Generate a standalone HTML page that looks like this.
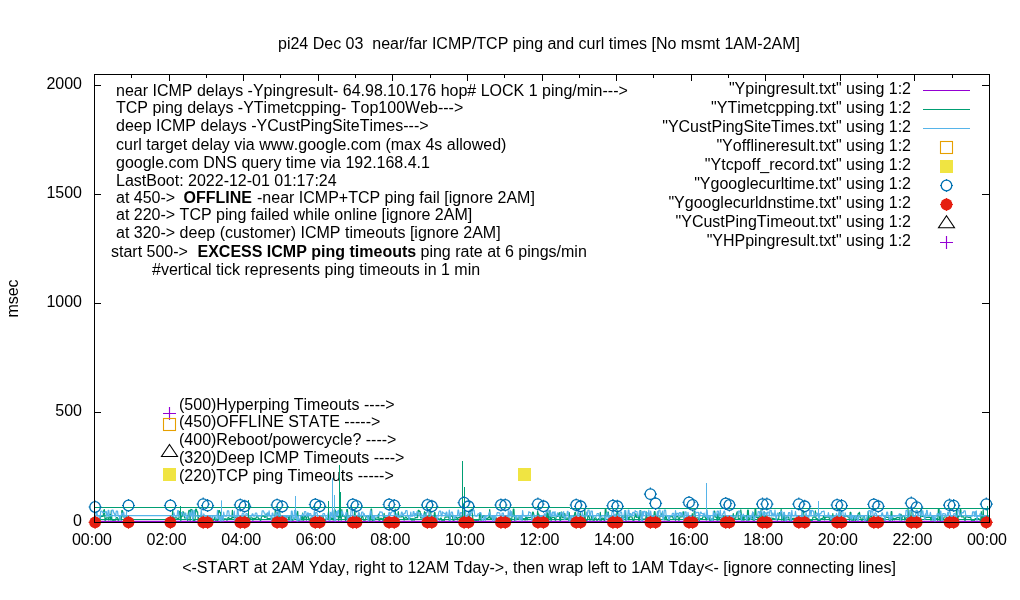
<!DOCTYPE html><html><head><meta charset="utf-8"><style>html,body{margin:0;padding:0;width:1020px;height:600px;overflow:hidden;background:#fff}</style></head><body><svg width="1020" height="600" viewBox="0 0 1020 600" style="position:absolute;left:0;top:0;will-change:transform"><rect width="1020" height="600" fill="#fff"/><g font-family="Liberation Sans, sans-serif" font-size="16" fill="#000" style="font-kerning:none"><text x="539" y="49" text-anchor="middle" xml:space="preserve">pi24 Dec 03  near/far ICMP/TCP ping and curl times [No msmt 1AM-2AM]</text><text x="82" y="526" text-anchor="end">0</text><text x="82" y="416" text-anchor="end">500</text><text x="82" y="307" text-anchor="end">1000</text><text x="82" y="198" text-anchor="end">1500</text><text x="82" y="89" text-anchor="end">2000</text><text x="92.0" y="545" text-anchor="middle">00:00</text><text x="166.6" y="545" text-anchor="middle">02:00</text><text x="241.2" y="545" text-anchor="middle">04:00</text><text x="315.8" y="545" text-anchor="middle">06:00</text><text x="390.3" y="545" text-anchor="middle">08:00</text><text x="464.9" y="545" text-anchor="middle">10:00</text><text x="539.5" y="545" text-anchor="middle">12:00</text><text x="614.1" y="545" text-anchor="middle">14:00</text><text x="688.7" y="545" text-anchor="middle">16:00</text><text x="763.2" y="545" text-anchor="middle">18:00</text><text x="837.8" y="545" text-anchor="middle">20:00</text><text x="912.4" y="545" text-anchor="middle">22:00</text><text x="987.0" y="545" text-anchor="middle">00:00</text><text x="539" y="573" text-anchor="middle">&lt;-START at 2AM Yday, right to 12AM Tday-&gt;, then wrap left to 1AM Tday&lt;- [ignore connecting lines]</text><text transform="translate(17.5,298.5) rotate(-90)" text-anchor="middle">msec</text><text x="116" y="96" xml:space="preserve">near ICMP delays -Ypingresult- 64.98.10.176 hop# LOCK 1 ping/min---&gt;</text><text x="116" y="113" xml:space="preserve">TCP ping delays -YTimetcpping- Top100Web---&gt;</text><text x="116" y="131" xml:space="preserve">deep ICMP delays -YCustPingSiteTimes---&gt;</text><text x="116" y="150" xml:space="preserve">curl target delay via www.google.com (max 4s allowed)</text><text x="116" y="168" xml:space="preserve">google.com DNS query time via 192.168.4.1</text><text x="116" y="185.5" xml:space="preserve">LastBoot: 2022-12-01 01:17:24</text><text x="116" y="202.5" xml:space="preserve">at 450-&gt;</text><text x="183.5" y="202.5" xml:space="preserve"><tspan font-weight="bold">OFFLINE</tspan></text><text x="257" y="202.5" xml:space="preserve">-near ICMP+TCP ping fail [ignore 2AM]</text><text x="116" y="220" xml:space="preserve">at 220-&gt; TCP ping failed while online [ignore 2AM]</text><text x="116" y="238" xml:space="preserve">at 320-&gt; deep (customer) ICMP timeouts [ignore 2AM]</text><text x="111" y="256.5" xml:space="preserve">start 500-&gt;</text><text x="197.5" y="256.5" xml:space="preserve"><tspan font-weight="bold">EXCESS ICMP ping timeouts</tspan></text><text x="420.5" y="256.5" xml:space="preserve">ping rate at 6 pings/min</text><text x="152" y="274.5" xml:space="preserve">#vertical tick represents ping timeouts in 1 min</text><text x="179" y="410" xml:space="preserve">(500)Hyperping Timeouts ----&gt;</text><text x="179" y="426.8" xml:space="preserve">(450)OFFLINE STATE -----&gt;</text><text x="179" y="444.5" xml:space="preserve">(400)Reboot/powercycle? ----&gt;</text><text x="179" y="462.6" xml:space="preserve">(320)Deep ICMP Timeouts ----&gt;</text><text x="179" y="480.5" xml:space="preserve">(220)TCP ping Timeouts -----&gt;</text><text x="911" y="94.2" text-anchor="end">&quot;Ypingresult.txt&quot; using 1:2</text><text x="911" y="113.2" text-anchor="end">&quot;YTimetcpping.txt&quot; using 1:2</text><text x="911" y="132.2" text-anchor="end">&quot;YCustPingSiteTimes.txt&quot; using 1:2</text><text x="911" y="151.2" text-anchor="end">&quot;Yofflineresult.txt&quot; using 1:2</text><text x="911" y="170.2" text-anchor="end">&quot;Ytcpoff_record.txt&quot; using 1:2</text><text x="911" y="189.2" text-anchor="end">&quot;Ygooglecurltime.txt&quot; using 1:2</text><text x="911" y="208.2" text-anchor="end">&quot;Ygooglecurldnstime.txt&quot; using 1:2</text><text x="911" y="227.2" text-anchor="end">&quot;YCustPingTimeout.txt&quot; using 1:2</text><text x="911" y="246.2" text-anchor="end">&quot;YHPpingresult.txt&quot; using 1:2</text></g><path d="M94 412.5h7M989 412.5h-7M94 303.5h7M989 303.5h-7M94 194.5h7M989 194.5h-7M94 85.5h7M989 85.5h-7M94.5 74v7M94.5 522v-5M131.5 74v4M131.5 522v-4M169.5 74v7M169.5 522v-5M206.5 74v4M206.5 522v-4M243.5 74v7M243.5 522v-5M280.5 74v4M280.5 522v-4M318.5 74v7M318.5 522v-5M355.5 74v4M355.5 522v-4M392.5 74v7M392.5 522v-5M430.5 74v4M430.5 522v-4M467.5 74v7M467.5 522v-5M504.5 74v4M504.5 522v-4M542.5 74v7M542.5 522v-5M579.5 74v4M579.5 522v-4M616.5 74v7M616.5 522v-5M653.5 74v4M653.5 522v-4M691.5 74v7M691.5 522v-5M728.5 74v4M728.5 522v-4M765.5 74v7M765.5 522v-5M803.5 74v4M803.5 522v-4M840.5 74v7M840.5 522v-5M877.5 74v4M877.5 522v-4M914.5 74v7M914.5 522v-5M952.5 74v4M952.5 522v-4M989.5 74v7M989.5 522v-5" stroke="#000" stroke-width="1" fill="none" shape-rendering="crispEdges"/><path d="M923 90.5H970" stroke="#9400d3" stroke-width="1.1"/><path d="M923 109.5H970" stroke="#009e73" stroke-width="1.1"/><path d="M923 128.5H970" stroke="#56b4e9" stroke-width="1.1"/><rect x="940.5" y="141.5" width="12" height="12" fill="none" stroke="#e69f00" stroke-width="1.1"/><rect x="940.0" y="160.0" width="13" height="13" fill="#f0e442"/><circle cx="946.50" cy="185.50" r="5.3" fill="none" stroke="#0072b2" stroke-width="1.3"/><path d="M940.00 185.50h1.6M953.00 185.50h-1.6M946.50 179.00v1.6M946.50 192.00v-1.6" stroke="#0072b2" stroke-width="1.2"/><circle cx="946.50" cy="204.50" r="5.9" fill="#e51e10"/><path d="M940.00 204.50h1.6M953.00 204.50h-1.6M946.50 198.00v1.6M946.50 211.00v-1.6" stroke="#e51e10" stroke-width="1.2"/><path d="M946.5 215.7L954.5 227.7H938.5Z" fill="none" stroke="#000" stroke-width="1.1" stroke-linejoin="miter"/><path d="M940.0 242.5h13M946.5 236.0v13" stroke="#9400d3" stroke-width="1.15"/><path d="M163.0 413.5h13M169.5 407.0v13" stroke="#9400d3" stroke-width="1.15"/><rect x="163.5" y="418.5" width="12" height="12" fill="none" stroke="#e69f00" stroke-width="1.1"/><path d="M169.5 444.5L177.5 456.5H161.5Z" fill="none" stroke="#000" stroke-width="1.1" stroke-linejoin="miter"/><rect x="163.0" y="468.0" width="13" height="13" fill="#f0e442"/><rect x="518.0" y="468.0" width="13" height="13" fill="#f0e442"/><g fill="none" stroke-linejoin="round"><path d="M94 521.4H989" stroke="#9400d3" stroke-width="1.2"/><path d="M94 507.5H570M570 508.5H989M94 519.5H989" stroke="#009e73" stroke-width="1.05"/><path d="M94 515.6H989" stroke="#56b4e9" stroke-width="1.2"/><path d="M94.5 519.9 95.1 517.6 95.7 517.6 96.4 517.6 97.0 517.6 97.6 520.4 98.2 520.3 98.9 519.8 99.5 520.4 100.1 520.4 100.7 516.3 101.3 516.3 102.0 516.3 102.6 516.3 103.2 516.3 103.8 510.1 104.4 509.6 105.1 520.6 105.7 519.9 106.3 517.9 106.9 517.9 107.6 517.9 108.2 517.9 108.8 520.2 109.4 514.4 110.0 514.4 110.7 519.9 111.3 510.5 111.9 520.0 112.5 520.1 113.1 520.5 113.8 520.0 114.4 519.9 115.0 520.2 115.6 520.1 116.3 517.5 116.9 517.5 117.5 517.5 118.1 520.4 118.7 520.0 119.4 518.4 120.0 518.4 120.6 518.4 121.2 520.1 121.8 510.5 122.5 510.5 123.1 517.0 123.7 517.0 124.3 517.0 125.0 517.0 125.6 520.1 126.2 516.6 126.8 516.6 127.4 516.6M171.5 520.5 172.1 520.6 172.7 509.5 173.4 520.5 174.0 517.8 174.6 517.8 175.2 517.8 175.9 517.8 176.5 517.8 177.1 518.3 177.7 518.3 178.3 518.3 179.0 518.3 179.6 511.4 180.2 511.4 180.8 520.6 181.4 516.3 182.1 516.3 182.7 511.8 183.3 511.8 183.9 512.8 184.6 518.0 185.2 518.0 185.8 518.0 186.4 518.0 187.0 518.0 187.7 520.6 188.3 513.4 188.9 510.3 189.5 510.3 190.1 520.4 190.8 509.4 191.4 509.7 192.0 509.7 192.6 512.0 193.3 520.5 193.9 519.9 194.5 520.5 195.1 520.0 195.7 509.1 196.4 509.1 197.0 511.8 197.6 511.8 198.2 520.6 198.8 516.1 199.5 516.1 200.1 516.1 200.7 516.1 201.3 516.1 202.0 520.2 202.6 520.6 203.2 520.4 203.8 517.3 204.4 517.3 205.1 517.3 205.7 517.2 206.3 517.2 206.9 517.2 207.5 520.3 208.2 519.0 208.8 519.0 209.4 519.0 210.0 519.0 210.7 519.0 211.3 520.5 211.9 519.9 212.5 519.8 213.1 520.1 213.8 520.3 214.4 517.4 215.0 517.4 215.6 520.3 216.2 520.1 216.9 520.1 217.5 520.4 218.1 520.1 218.7 510.5 219.4 510.5 220.0 512.7 220.6 512.7 221.2 518.6 221.8 518.6 222.5 518.6 223.1 518.6 223.7 520.2 224.3 518.8 224.9 518.8 225.6 518.8 226.2 518.8 226.8 520.2 227.4 520.0 228.1 517.4 228.7 517.4 229.3 518.6 229.9 518.6 230.5 518.6 231.2 518.6 231.8 518.6 232.4 510.4 233.0 517.6 233.6 517.6 234.3 517.6 234.9 517.6 235.5 517.2 236.1 517.2 236.8 517.2 237.4 517.2 238.0 517.2 238.6 520.2 239.2 520.4 239.9 519.9 240.5 520.1 241.1 520.0 241.7 517.1 242.4 517.1 243.0 519.8 243.6 516.9 244.2 516.9 244.8 516.9 245.5 516.9 246.1 520.0 246.7 517.6 247.3 517.6 247.9 517.6 248.6 517.6 249.2 517.6 249.8 520.0 250.4 517.9 251.1 517.9 251.7 517.9 252.3 517.9 252.9 520.4 253.5 518.3 254.2 518.3 254.8 518.3 255.4 518.3 256.0 518.3 256.6 516.8 257.3 516.8 257.9 516.8 258.5 518.8 259.1 518.8 259.8 518.8 260.4 520.5 261.0 519.9 261.6 516.2 262.2 516.2 262.9 516.2 263.5 516.2 264.1 516.2 264.7 517.5 265.3 517.5 266.0 514.1 266.6 514.1 267.2 518.7 267.8 518.7 268.5 518.7 269.1 518.7 269.7 518.7 270.3 518.3 270.9 518.3 271.6 520.4 272.2 518.0 272.8 518.0 273.4 518.0 274.0 518.0 274.7 520.4 275.3 509.4 275.9 513.1 276.5 513.1 277.2 512.9 277.8 512.9 278.4 520.2 279.0 520.5 279.6 509.3 280.3 518.9 280.9 518.9 281.5 518.9 282.1 520.0 282.7 516.8 283.4 516.8 284.0 516.8 284.6 516.8 285.2 520.2 285.9 516.9 286.5 516.9 287.1 516.9 287.7 516.9 288.3 516.9 289.0 520.5 289.6 516.2 290.2 516.2 290.8 516.2 291.4 516.2 292.1 520.3 292.7 519.9 293.3 520.1 293.9 518.0 294.6 518.0 295.2 518.0 295.8 518.0 296.4 514.2 297.0 514.2 297.7 511.4 298.3 520.4 298.9 520.2 299.5 520.2 300.2 519.8 300.8 516.1 301.4 516.1 302.0 520.2 302.6 513.1 303.3 520.3 303.9 520.0 304.5 516.4 305.1 516.4 305.7 516.4 306.4 520.2 307.0 516.2 307.6 516.2 308.2 516.2 308.9 520.0 309.5 520.3 310.1 518.1 310.7 518.1 311.3 518.3 312.0 518.3 312.6 518.3 313.2 518.3 313.8 520.4 314.4 517.6 315.1 517.6 315.7 517.6 316.3 518.9 316.9 518.9 317.6 518.9 318.2 518.9 318.8 518.9 319.4 520.1 320.0 518.0 320.7 518.0 321.3 516.6 321.9 516.6 322.5 516.6 323.1 516.6 323.8 519.9 324.4 519.9 325.0 520.6 325.6 520.2 326.3 518.3 326.9 518.3 327.5 518.3 328.1 518.3 328.7 518.3 329.4 520.5 330.0 516.9 330.6 516.9 331.2 518.3 331.8 518.3 332.5 518.3 333.1 520.0 333.7 519.9 334.3 509.8 335.0 509.8 335.6 511.5 336.2 516.3 336.8 516.3 337.4 516.3 338.1 516.3 338.7 520.4 339.3 516.3 339.9 516.3 340.5 516.3 341.2 520.2 341.8 509.5 342.4 516.2 343.0 516.2 343.7 516.2 344.3 516.3 344.9 516.3 345.5 520.5 346.1 519.9 346.8 509.6 347.4 509.6 348.0 517.0 348.6 517.0 349.2 517.0 349.9 517.5 350.5 517.5 351.1 517.5 351.7 517.5 352.4 520.0 353.0 520.6 353.6 520.4 354.2 520.0 354.8 509.3 355.5 520.0 356.1 519.9 356.7 517.2 357.3 517.2 358.0 516.3 358.6 516.3 359.2 516.3 359.8 518.4 360.4 518.4 361.1 519.9 361.7 516.6 362.3 516.6 362.9 516.6 363.5 520.1 364.2 520.2 364.8 519.8 365.4 520.1 366.0 516.7 366.7 516.7 367.3 516.7 367.9 516.4 368.5 516.4 369.1 516.4 369.8 520.3 370.4 519.9 371.0 509.2 371.6 509.2 372.2 520.4 372.9 520.0 373.5 520.5 374.1 519.9 374.7 520.1 375.4 518.0 376.0 518.0 376.6 518.0 377.2 518.0 377.8 518.0 378.5 514.2 379.1 520.5 379.7 520.3 380.3 518.4 380.9 518.4 381.6 518.4 382.2 518.4 382.8 520.3 383.4 520.3 384.1 513.4 384.7 517.7 385.3 517.7 385.9 517.7 386.5 517.7 387.2 517.7 387.8 520.5 388.4 519.8 389.0 520.1 389.6 520.4 390.3 518.8 390.9 518.8 391.5 518.8 392.1 520.5 392.8 518.5 393.4 518.5 394.0 518.5 394.6 518.5 395.2 509.1 395.9 520.2 396.5 516.4 397.1 516.4 397.7 516.4 398.3 511.6 399.0 516.8 399.6 516.8 400.2 516.8 400.8 516.8 401.5 516.8 402.1 516.7 402.7 516.7 403.3 516.7 403.9 519.8 404.6 519.9 405.2 517.1 405.8 517.1 406.4 517.1 407.0 518.6 407.7 518.6 408.3 518.6 408.9 518.6 409.5 518.6 410.2 518.6 410.8 518.6 411.4 518.6 412.0 520.6 412.6 518.6 413.3 518.6 413.9 520.2 414.5 520.0 415.1 517.7 415.7 517.7 416.4 517.7 417.0 517.7 417.6 517.7 418.2 510.4 418.9 510.4 419.5 511.4 420.1 511.4 420.7 517.9 421.3 517.9 422.0 517.9 422.6 517.9 423.2 517.9 423.8 520.4 424.5 511.7 425.1 512.8 425.7 512.8 426.3 518.7 426.9 518.7 427.6 518.7 428.2 518.7 428.8 518.7 429.4 509.8 430.0 509.8 430.7 512.2 431.3 519.9 431.9 520.6 432.5 520.0 433.2 519.8 433.8 520.1 434.4 512.5 435.0 512.5 435.6 520.4 436.3 520.0 436.9 518.5 437.5 518.5 438.1 518.5 438.7 518.5 439.4 520.0 440.0 519.8 440.6 518.0 441.2 518.0 441.9 520.6 442.5 520.1 443.1 520.0 443.7 520.2 444.3 520.5 445.0 517.1 445.6 517.1 446.2 517.1 446.8 517.1 447.4 516.8 448.1 516.8 448.7 516.8 449.3 520.3 449.9 520.1 450.6 516.1 451.2 516.1 451.8 516.1 452.4 516.1 453.0 520.2 453.7 520.3 454.3 520.0 454.9 517.6 455.5 517.6 456.1 517.6 456.8 517.6 457.4 519.9 458.0 517.6 458.6 517.6 459.3 517.6 459.9 517.6 460.5 516.8 461.1 516.8 461.7 516.8 462.4 520.5 463.0 513.6 463.6 519.9 464.2 518.2 464.8 518.2 465.5 520.1 466.1 520.4 466.7 518.4 467.3 518.4 468.0 518.4 468.6 518.4 469.2 520.4 469.8 511.3 470.4 511.3 471.1 509.4 471.7 509.4 472.3 512.2 472.9 520.1 473.5 520.0 474.2 520.4 474.8 519.9 475.4 520.4 476.0 520.5 476.7 520.4 477.3 520.3 477.9 519.9 478.5 520.4 479.1 520.0 479.8 513.5 480.4 513.5 481.0 520.5 481.6 517.7 482.3 517.7 482.9 516.2 483.5 516.2 484.1 516.2 484.7 516.2 485.4 518.3 486.0 518.3 486.6 518.3 487.2 518.3 487.8 518.3 488.5 517.3 489.1 517.3 489.7 509.6 490.3 518.9 491.0 518.9 491.6 518.9 492.2 516.6 492.8 516.6 493.4 518.4 494.1 518.4 494.7 518.4 495.3 518.4 495.9 517.9 496.5 517.9 497.2 520.1 497.8 520.3 498.4 519.0 499.0 519.0 499.7 519.0 500.3 519.0 500.9 520.1 501.5 519.9 502.1 519.9 502.8 518.1 503.4 518.1 504.0 518.1 504.6 518.1 505.2 518.1 505.9 516.3 506.5 516.3 507.1 516.3 507.7 518.2 508.4 518.2 509.0 518.1 509.6 518.1 510.2 518.1 510.8 520.0 511.5 520.5 512.1 516.1 512.7 516.1 513.3 509.1 513.9 509.1 514.6 520.3 515.2 520.1 515.8 518.2 516.4 518.2 517.1 518.2 517.7 518.2 518.3 518.1 518.9 518.1 519.5 517.1 520.2 517.1 520.8 517.1 521.4 517.1 522.0 517.1 522.6 519.9 523.3 518.7 523.9 518.7 524.5 518.7 525.1 520.2 525.8 517.1 526.4 517.1 527.0 520.0 527.6 517.6 528.2 517.6 528.9 517.6 529.5 517.6 530.1 517.6 530.7 517.3 531.3 517.3 532.0 517.3 532.6 512.2 533.2 512.2 533.8 514.4 534.5 518.7 535.1 518.7 535.7 520.1 536.3 520.2 536.9 520.5 537.6 511.0 538.2 514.2 538.8 514.2 539.4 517.9 540.0 517.9 540.7 517.9 541.3 517.9 541.9 517.9 542.5 520.3 543.2 520.5 543.8 518.6 544.4 518.6 545.0 518.6 545.6 520.2 546.3 520.3 546.9 511.1 547.5 520.5 548.1 513.1 548.8 520.4 549.4 514.4 550.0 510.3 550.6 519.8 551.2 520.3 551.9 517.4 552.5 517.4 553.1 517.4 553.7 517.4 554.3 517.4 555.0 519.9 555.6 520.4 556.2 516.5 556.8 516.5 557.5 516.5 558.1 516.5 558.7 513.9 559.3 512.6 559.9 520.3 560.6 520.4 561.2 512.0 561.8 512.0 562.4 517.7 563.0 517.7 563.7 517.7 564.3 513.5 564.9 513.5 565.5 518.2 566.2 518.2 566.8 518.2 567.4 518.2 568.0 518.2 568.6 520.3 569.3 512.7 569.9 520.5 570.5 519.9 571.1 518.3 571.7 518.3 572.4 518.3 573.0 520.3 573.6 516.2 574.2 516.2 574.9 512.3 575.5 512.3 576.1 517.8 576.7 517.8 577.3 517.8 578.0 520.4 578.6 520.5 579.2 520.4 579.8 513.7 580.4 513.7 581.1 519.8 581.7 520.0 582.3 518.4 582.9 518.4 583.6 518.4 584.2 518.4 584.8 509.9 585.4 520.3 586.0 520.4 586.7 520.6 587.3 520.0 587.9 516.1 588.5 516.1 589.1 516.1 589.8 520.1 590.4 519.8 591.0 520.0 591.6 516.5 592.3 516.5 592.9 520.1 593.5 520.1 594.1 520.6 594.7 517.9 595.4 517.9 596.0 517.9 596.6 520.1 597.2 520.4 597.8 519.9 598.5 518.7 599.1 518.7 599.7 520.1 600.3 512.4 601.0 520.4 601.6 520.0 602.2 518.1 602.8 518.1 603.4 518.1 604.1 520.3 604.7 520.4 605.3 509.4 605.9 509.4 606.6 516.2 607.2 516.2 607.8 512.1 608.4 512.1 609.0 520.2 609.7 520.5 610.3 516.8 610.9 516.8 611.5 516.8 612.1 516.8 612.8 516.8 613.4 517.3 614.0 517.3 614.6 520.2 615.3 517.2 615.9 517.2 616.5 517.2 617.1 510.9 617.7 510.9 618.4 516.6 619.0 516.6 619.6 517.8 620.2 517.8 620.8 517.8 621.5 517.8 622.1 516.3 622.7 516.3 623.3 517.7 624.0 517.7 624.6 517.7 625.2 510.5 625.8 520.1 626.4 519.9 627.1 517.1 627.7 517.1 628.3 517.1 628.9 519.9 629.5 516.9 630.2 516.9 630.8 516.9 631.4 516.9 632.0 516.9 632.7 519.8 633.3 520.5 633.9 520.5 634.5 516.8 635.1 516.8 635.8 513.6 636.4 517.5 637.0 517.5 637.6 516.3 638.2 516.3 638.9 520.5 639.5 520.1 640.1 510.5 640.7 510.5 641.4 517.7 642.0 517.7 642.6 520.2 643.2 519.0 643.8 519.0 644.5 519.0 645.1 519.0 645.7 519.0 646.3 511.9 646.9 520.2 647.6 517.4 648.2 517.4 648.8 517.4 649.4 517.4 650.1 517.4 650.7 520.2 651.3 519.9 651.9 516.6 652.5 516.6 653.2 516.6 653.8 516.6 654.4 511.6 655.0 511.6 655.6 518.0 656.3 518.0 656.9 520.3 657.5 513.2 658.1 519.9 658.8 520.6 659.4 520.5 660.0 516.5 660.6 516.5 661.2 516.5 661.9 513.0 662.5 513.0 663.1 517.3 663.7 517.3 664.3 517.3 665.0 520.0 665.6 516.2 666.2 516.2 666.8 519.8 667.5 520.0 668.1 520.2 668.7 520.2 669.3 520.3 669.9 516.6 670.6 516.6 671.2 516.6 671.8 516.6 672.4 516.6 673.1 518.3 673.7 518.3 674.3 518.0 674.9 518.0 675.5 520.4 676.2 516.5 676.8 516.5 677.4 516.5 678.0 516.5 678.6 520.2 679.3 520.1 679.9 516.8 680.5 516.8 681.1 516.8 681.8 516.8 682.4 516.8 683.0 511.9 683.6 511.9 684.2 519.8 684.9 517.8 685.5 517.8 686.1 517.8 686.7 517.8 687.3 517.8 688.0 520.0 688.6 520.0 689.2 518.9 689.8 518.9 690.5 518.9 691.1 518.9 691.7 518.9 692.3 513.5 692.9 519.9 693.6 519.9 694.2 511.1 694.8 511.1 695.4 520.3 696.0 519.9 696.7 517.8 697.3 517.8 697.9 517.8 698.5 517.8 699.2 520.6 699.8 518.7 700.4 518.7 701.0 518.7 701.6 518.7 702.3 518.7 702.9 516.8 703.5 516.8 704.1 516.8 704.7 516.8 705.4 516.8 706.0 519.8 706.6 520.0 707.2 517.3 707.9 517.3 708.5 517.3 709.1 517.3 709.7 520.4 710.3 519.9 711.0 520.4 711.6 518.9 712.2 518.9 712.8 518.9 713.4 520.1 714.1 511.0 714.7 511.0 715.3 517.1 715.9 517.1 716.6 517.1 717.2 520.5 717.8 513.9 718.4 513.9 719.0 520.2 719.7 517.6 720.3 517.6 720.9 517.6 721.5 517.6 722.1 520.1 722.8 516.1 723.4 516.1 724.0 516.1 724.6 517.9 725.3 517.9 725.9 517.9 726.5 517.9 727.1 520.3 727.7 520.4 728.4 520.0 729.0 520.0 729.6 517.8 730.2 517.8 730.8 517.6 731.5 517.6 732.1 517.6 732.7 517.6 733.3 513.6 734.0 519.8 734.6 518.1 735.2 518.1 735.8 518.1 736.4 514.1 737.1 511.9 737.7 511.9 738.3 518.6 738.9 518.6 739.6 518.6 740.2 518.6 740.8 509.9 741.4 514.4 742.0 520.4 742.7 516.6 743.3 516.6 743.9 520.5 744.5 516.0 745.1 516.0 745.8 516.0 746.4 516.0 747.0 520.4 747.6 510.1 748.3 510.1 748.9 520.4 749.5 518.0 750.1 518.0 750.7 518.0 751.4 518.0 752.0 518.0 752.6 512.2 753.2 520.2 753.8 520.2 754.5 520.1 755.1 509.1 755.7 509.1 756.3 517.4 757.0 517.4 757.6 517.4 758.2 520.0 758.8 516.8 759.4 516.8 760.1 516.8 760.7 510.9 761.3 510.9 761.9 516.9 762.5 516.9 763.2 516.9 763.8 516.9 764.4 511.8 765.0 516.7 765.7 516.7 766.3 517.5 766.9 517.5 767.5 517.5 768.1 517.5 768.8 520.2 769.4 518.0 770.0 518.0 770.6 518.0 771.2 518.0 771.9 518.0 772.5 518.4 773.1 518.4 773.7 518.4 774.4 518.8 775.0 518.8 775.6 518.8 776.2 518.8 776.8 518.8 777.5 520.1 778.1 518.8 778.7 518.8 779.3 512.5 779.9 512.5 780.6 514.2 781.2 509.2 781.8 520.3 782.4 516.4 783.1 516.4 783.7 520.4 784.3 512.7 784.9 520.1 785.5 520.3 786.2 517.2 786.8 517.2 787.4 517.2 788.0 517.2 788.6 517.2 789.3 520.1 789.9 520.2 790.5 519.9 791.1 520.6 791.8 520.1 792.4 518.4 793.0 518.4 793.6 518.4 794.2 518.4 794.9 518.4 795.5 518.4 796.1 518.4 796.7 518.4 797.4 520.2 798.0 520.2 798.6 519.8 799.2 520.5 799.8 520.6 800.5 520.1 801.1 520.5 801.7 520.3 802.3 510.3 802.9 510.3 803.6 512.3 804.2 520.1 804.8 520.5 805.4 517.1 806.1 517.1 806.7 517.1 807.3 517.1 807.9 518.8 808.5 518.8 809.2 520.1 809.8 520.5 810.4 520.0 811.0 520.4 811.6 520.4 812.3 520.5 812.9 517.1 813.5 517.1 814.1 517.1 814.8 517.1 815.4 510.9 816.0 518.5 816.6 518.5 817.2 518.5 817.9 520.6 818.5 520.2 819.1 520.4 819.7 520.6 820.3 520.2 821.0 518.5 821.6 518.5 822.2 518.5 822.8 518.5 823.5 516.4 824.1 516.4 824.7 519.8 825.3 517.5 825.9 517.5 826.6 517.2 827.2 517.2 827.8 517.2 828.4 517.2 829.0 517.2 829.7 520.0 830.3 520.5 830.9 520.5 831.5 520.0 832.2 520.3 832.8 513.6 833.4 520.1 834.0 520.3 834.6 517.1 835.3 517.1 835.9 520.3 836.5 516.1 837.1 516.1 837.7 516.1 838.4 517.6 839.0 517.6 839.6 517.6 840.2 517.6 840.9 512.3 841.5 519.0 842.1 519.0 842.7 519.0 843.3 519.0 844.0 519.0 844.6 516.2 845.2 516.2 845.8 516.2 846.4 516.2 847.1 516.2 847.7 517.0 848.3 517.0 848.9 517.0 849.6 520.4 850.2 512.3 850.8 512.3 851.4 520.2 852.0 519.9 852.7 520.2 853.3 520.5 853.9 516.6 854.5 516.6 855.1 520.5 855.8 520.4 856.4 516.5 857.0 516.5 857.6 516.5 858.3 513.4 858.9 513.4 859.5 512.3 860.1 517.4 860.7 517.4 861.4 520.4 862.0 519.9 862.6 520.2 863.2 516.7 863.9 516.7 864.5 516.7 865.1 520.0 865.7 520.4 866.3 520.4 867.0 520.0 867.6 520.5 868.2 511.4 868.8 520.5 869.4 520.1 870.1 516.6 870.7 516.6 871.3 516.6 871.9 516.6 872.6 519.0 873.2 519.0 873.8 519.0 874.4 517.9 875.0 517.9 875.7 517.9 876.3 517.9 876.9 517.3 877.5 517.3 878.1 517.3 878.8 517.5 879.4 517.5 880.0 517.5 880.6 518.3 881.3 518.3 881.9 518.3 882.5 518.3 883.1 518.3 883.7 520.0 884.4 520.2 885.0 520.2 885.6 517.2 886.2 517.2 886.8 517.3 887.5 517.3 888.1 517.3 888.7 517.3 889.3 520.5 890.0 520.2 890.6 520.2 891.2 511.6 891.8 511.6 892.4 520.3 893.1 518.2 893.7 518.2 894.3 519.9 894.9 518.4 895.5 518.4 896.2 518.4 896.8 517.6 897.4 517.6 898.0 517.6 898.7 517.6 899.3 517.6 899.9 520.0 900.5 514.4 901.1 514.4 901.8 520.2 902.4 516.1 903.0 516.1 903.6 516.1 904.2 516.1 904.9 520.2 905.5 517.8 906.1 517.8 906.7 517.8 907.4 517.8 908.0 509.4 908.6 518.5 909.2 518.5 909.8 518.5 910.5 520.1 911.1 513.1 911.7 509.3 912.3 509.3 912.9 514.0 913.6 520.2 914.2 519.9 914.8 520.1 915.4 518.6 916.1 518.6 916.7 518.6 917.3 518.6 917.9 518.6 918.5 518.1 919.2 518.1 919.8 518.1 920.4 520.6 921.0 509.7 921.7 516.5 922.3 516.5 922.9 516.5 923.5 516.5 924.1 516.5 924.8 517.8 925.4 517.8 926.0 517.8 926.6 517.3 927.2 517.3 927.9 517.3 928.5 517.3 929.1 517.3 929.7 517.4 930.4 517.4 931.0 520.4 931.6 516.5 932.2 516.5 932.8 516.5 933.5 516.5 934.1 520.3 934.7 518.7 935.3 518.7 935.9 518.7 936.6 518.7 937.2 518.7 937.8 520.5 938.4 509.1 939.1 509.1 939.7 520.2 940.3 513.3 940.9 520.4 941.5 517.5 942.2 517.5 942.8 520.1 943.4 520.0 944.0 517.0 944.6 517.0 945.3 517.0 945.9 517.0 946.5 517.0 947.1 520.5 947.8 520.1 948.4 518.7 949.0 518.7 949.6 520.4 950.2 516.8 950.9 516.8 951.5 516.8 952.1 516.8 952.7 517.5 953.3 517.5 954.0 517.5 954.6 517.5 955.2 520.6 955.8 520.5 956.5 509.5 957.1 509.5 957.7 520.3 958.3 516.3 958.9 516.3 959.6 516.3 960.2 509.6 960.8 509.6 961.4 516.8 962.0 516.8 962.7 516.8 963.3 516.8 963.9 516.8 964.5 519.9 965.2 520.4 965.8 516.8 966.4 516.8 967.0 516.8 967.6 516.8 968.3 517.5 968.9 517.5 969.5 517.5 970.1 517.5 970.7 517.5 971.4 520.4 972.0 520.0 972.6 520.1 973.2 520.4 973.9 519.8 974.5 520.4 975.1 518.6 975.7 518.6 976.3 518.6 977.0 518.6 977.6 518.6 978.2 518.6 978.8 518.6 979.4 519.8 980.1 519.9 980.7 520.5 981.3 511.6 981.9 520.1 982.6 519.9 983.2 509.7 983.8 520.0 984.4 516.7 985.0 516.7 985.7 516.7 986.3 516.7 986.9 516.7 987.5 516.7 988.2 516.7 988.8 520.4" stroke="#009e73" stroke-width="1.2"/><path d="M94.5 520.1 95.1 515.7 95.7 516.3 96.4 511.7 97.0 513.3 97.6 516.1 98.2 515.6 98.9 515.6 99.5 518.8 100.1 518.8 100.7 511.2 101.3 511.2 102.0 511.2 102.6 512.6 103.2 512.6 103.8 512.3 104.4 512.3 105.1 512.3 105.7 511.7 106.3 511.7 106.9 516.3 107.6 515.8 108.2 510.3 108.8 510.3 109.4 516.3 110.0 515.8 110.7 515.7 111.3 516.2 111.9 510.2 112.5 510.2 113.1 510.2 113.8 513.2 114.4 513.2 115.0 515.9 115.6 516.2 116.3 511.1 116.9 511.1 117.5 511.1 118.1 515.6 118.7 516.1 119.4 516.3 120.0 520.2 120.6 515.9 121.2 516.0 121.8 513.0 122.5 513.0 123.1 516.3 123.7 512.2 124.3 516.3 125.0 519.4 125.6 519.4 126.2 515.7 126.8 510.9 127.4 510.9M171.5 516.4 172.1 515.6 172.7 515.9 173.4 516.3 174.0 512.8 174.6 515.7 175.2 515.9 175.9 516.4 176.5 515.9 177.1 516.2 177.7 510.6 178.3 510.6 179.0 515.7 179.6 516.4 180.2 515.9 180.8 515.7 181.4 512.6 182.1 512.6 182.7 512.6 183.3 515.7 183.9 515.8 184.6 515.6 185.2 513.1 185.8 513.1 186.4 518.8 187.0 518.8 187.7 516.1 188.3 516.0 188.9 516.3 189.5 512.0 190.1 512.0 190.8 516.1 191.4 515.7 192.0 510.5 192.6 519.9 193.3 515.6 193.9 510.4 194.5 510.4 195.1 516.2 195.7 516.0 196.4 516.0 197.0 516.2 197.6 516.0 198.2 516.4 198.8 516.3 199.5 515.8 200.1 516.4 200.7 515.7 201.3 510.3 202.0 515.8 202.6 520.4 203.2 520.4 203.8 513.9 204.4 515.7 205.1 515.7 205.7 515.8 206.3 516.4 206.9 515.9 207.5 515.7 208.2 515.9 208.8 516.2 209.4 516.0 210.0 518.8 210.7 515.7 211.3 520.4 211.9 520.4 212.5 516.3 213.1 516.1 213.8 515.9 214.4 516.0 215.0 515.9 215.6 519.0 216.2 518.7 216.9 518.7 217.5 510.3 218.1 515.9 218.7 516.3 219.4 519.8 220.0 516.4 220.6 520.8 221.2 520.8 221.8 515.8 222.5 516.1 223.1 521.0 223.7 512.2 224.3 515.8 224.9 516.1 225.6 516.1 226.2 516.3 226.8 515.8 227.4 510.8 228.1 510.8 228.7 510.8 229.3 515.7 229.9 516.4 230.5 515.6 231.2 516.3 231.8 515.6 232.4 515.9 233.0 516.4 233.6 516.2 234.3 511.1 234.9 520.9 235.5 520.9 236.1 519.3 236.8 519.3 237.4 510.3 238.0 510.3 238.6 515.8 239.2 515.6 239.9 519.5 240.5 515.8 241.1 515.7 241.7 516.3 242.4 513.1 243.0 513.1 243.6 513.1 244.2 515.9 244.8 515.7 245.5 516.1 246.1 513.6 246.7 513.6 247.3 513.6 247.9 516.2 248.6 516.3 249.2 516.1 249.8 515.6 250.4 516.2 251.1 516.4 251.7 515.7 252.3 513.8 252.9 513.8 253.5 516.0 254.2 516.1 254.8 516.0 255.4 513.0 256.0 513.0 256.6 513.0 257.3 515.7 257.9 516.2 258.5 516.2 259.1 515.8 259.8 515.8 260.4 516.0 261.0 515.7 261.6 515.8 262.2 510.8 262.9 510.8 263.5 510.8 264.1 513.0 264.7 513.0 265.3 515.7 266.0 516.0 266.6 515.7 267.2 512.8 267.8 512.8 268.5 516.0 269.1 510.8 269.7 515.6 270.3 516.3 270.9 516.0 271.6 520.9 272.2 513.0 272.8 513.0 273.4 515.7 274.0 516.0 274.7 516.2 275.3 519.7 275.9 512.7 276.5 512.7 277.2 519.4 277.8 519.4 278.4 511.3 279.0 511.3 279.6 515.7 280.3 516.2 280.9 515.8 281.5 515.9 282.1 516.1 282.7 515.9 283.4 518.8 284.0 518.8 284.6 515.7 285.2 515.9 285.9 520.5 286.5 520.5 287.1 516.2 287.7 516.3 288.3 516.0 289.0 515.6 289.6 516.0 290.2 516.1 290.8 520.8 291.4 511.1 292.1 511.1 292.7 516.4 293.3 519.3 293.9 519.3 294.6 510.3 295.2 510.3 295.8 510.3 296.4 516.0 297.0 521.0 297.7 521.0 298.3 516.0 298.9 519.9 299.5 519.9 300.2 519.9 300.8 515.9 301.4 516.0 302.0 515.9 302.6 513.9 303.3 516.0 303.9 516.3 304.5 511.5 305.1 511.5 305.7 511.5 306.4 516.4 307.0 516.3 307.6 512.8 308.2 512.8 308.9 516.0 309.5 513.7 310.1 513.7 310.7 513.7 311.3 516.4 312.0 518.9 312.6 516.2 313.2 516.2 313.8 516.0 314.4 510.9 315.1 515.8 315.7 512.5 316.3 512.5 316.9 512.5 317.6 515.7 318.2 519.0 318.8 519.0 319.4 518.5 320.0 518.5 320.7 515.8 321.3 519.1 321.9 515.6 322.5 516.1 323.1 513.5 323.8 513.5 324.4 513.5 325.0 515.8 325.6 516.3 326.3 519.3 326.9 519.3 327.5 515.9 328.1 513.4 328.7 511.2 329.4 520.4 330.0 520.4 330.6 512.4 331.2 516.3 331.8 513.7 332.5 510.6 333.1 515.7 333.7 516.2 334.3 518.7 335.0 520.8 335.6 520.8 336.2 511.5 336.8 511.5 337.4 516.0 338.1 510.3 338.7 510.3 339.3 515.7 339.9 515.8 340.5 516.3 341.2 515.9 341.8 511.5 342.4 511.5 343.0 513.6 343.7 515.8 344.3 515.9 344.9 516.0 345.5 515.6 346.1 512.4 346.8 512.4 347.4 520.0 348.0 520.0 348.6 516.2 349.2 515.8 349.9 516.1 350.5 516.4 351.1 510.4 351.7 510.4 352.4 510.4 353.0 516.4 353.6 515.8 354.2 516.0 354.8 515.7 355.5 516.2 356.1 516.2 356.7 515.9 357.3 520.5 358.0 515.9 358.6 512.6 359.2 512.6 359.8 515.9 360.4 516.3 361.1 515.8 361.7 512.0 362.3 512.0 362.9 512.0 363.5 515.7 364.2 513.6 364.8 516.3 365.4 515.7 366.0 515.8 366.7 515.9 367.3 515.8 367.9 518.9 368.5 521.0 369.1 515.7 369.8 515.6 370.4 510.9 371.0 510.9 371.6 515.6 372.2 519.0 372.9 515.9 373.5 516.0 374.1 520.9 374.7 516.2 375.4 515.6 376.0 515.6 376.6 515.6 377.2 516.3 377.8 516.3 378.5 515.9 379.1 515.7 379.7 511.9 380.3 511.9 380.9 512.2 381.6 512.2 382.2 512.2 382.8 516.1 383.4 515.8 384.1 516.1 384.7 515.6 385.3 516.3 385.9 515.6 386.5 516.2 387.2 515.9 387.8 516.4 388.4 515.7 389.0 512.3 389.6 512.3 390.3 515.7 390.9 512.6 391.5 512.6 392.1 511.5 392.8 511.5 393.4 511.5 394.0 510.6 394.6 515.7 395.2 516.2 395.9 515.8 396.5 513.9 397.1 513.9 397.7 520.1 398.3 516.1 399.0 515.7 399.6 515.8 400.2 516.3 400.8 515.7 401.5 512.1 402.1 512.1 402.7 515.7 403.3 516.3 403.9 513.4 404.6 513.4 405.2 513.4 405.8 510.5 406.4 510.5 407.0 510.5 407.7 516.3 408.3 516.1 408.9 519.5 409.5 519.5 410.2 516.0 410.8 512.0 411.4 516.1 412.0 516.3 412.6 515.9 413.3 511.5 413.9 511.5 414.5 516.1 415.1 513.7 415.7 513.7 416.4 516.0 417.0 511.5 417.6 512.5 418.2 512.5 418.9 512.5 419.5 515.8 420.1 516.0 420.7 516.3 421.3 513.7 422.0 516.1 422.6 520.0 423.2 520.0 423.8 513.7 424.5 516.1 425.1 519.0 425.7 519.0 426.3 512.7 426.9 512.7 427.6 510.5 428.2 510.5 428.8 510.5 429.4 513.9 430.0 513.9 430.7 516.1 431.3 515.7 431.9 516.1 432.5 516.2 433.2 519.9 433.8 519.9 434.4 519.1 435.0 519.3 435.6 519.3 436.3 516.2 436.9 520.1 437.5 520.1 438.1 516.3 438.7 512.6 439.4 511.2 440.0 511.2 440.6 511.2 441.2 515.8 441.9 516.1 442.5 511.9 443.1 512.8 443.7 512.8 444.3 513.5 445.0 513.5 445.6 515.8 446.2 512.2 446.8 512.2 447.4 516.1 448.1 516.0 448.7 515.7 449.3 510.1 449.9 520.4 450.6 516.1 451.2 512.1 451.8 512.1 452.4 512.1 453.0 516.1 453.7 515.7 454.3 518.6 454.9 518.6 455.5 515.6 456.1 516.2 456.8 516.2 457.4 515.8 458.0 510.2 458.6 510.2 459.3 516.3 459.9 515.8 460.5 512.7 461.1 512.7 461.7 512.7 462.4 516.0 463.0 520.9 463.6 510.7 464.2 515.8 464.8 510.8 465.5 510.8 466.1 520.8 466.7 520.8 467.3 516.0 468.0 513.8 468.6 515.8 469.2 510.3 469.8 510.4 470.4 515.7 471.1 512.8 471.7 512.8 472.3 512.8 472.9 510.2 473.5 510.2 474.2 510.2 474.8 515.8 475.4 516.0 476.0 516.3 476.7 516.2 477.3 515.8 477.9 513.8 478.5 513.8 479.1 513.8 479.8 512.5 480.4 512.5 481.0 513.0 481.6 519.2 482.3 519.2 482.9 520.3 483.5 520.3 484.1 516.2 484.7 516.0 485.4 520.5 486.0 516.2 486.6 516.2 487.2 515.8 487.8 515.7 488.5 515.7 489.1 513.0 489.7 512.0 490.3 516.1 491.0 516.0 491.6 515.7 492.2 516.4 492.8 520.8 493.4 516.4 494.1 515.7 494.7 520.8 495.3 516.1 495.9 515.8 496.5 516.0 497.2 512.5 497.8 512.5 498.4 512.8 499.0 512.8 499.7 512.8 500.3 515.9 500.9 520.6 501.5 520.6 502.1 513.1 502.8 513.1 503.4 513.1 504.0 520.1 504.6 515.8 505.2 516.3 505.9 516.2 506.5 516.2 507.1 515.9 507.7 519.1 508.4 510.8 509.0 516.2 509.6 515.9 510.2 510.4 510.8 516.0 511.5 511.7 512.1 516.1 512.7 515.7 513.3 515.9 513.9 516.3 514.6 516.1 515.2 515.9 515.8 520.7 516.4 516.1 517.1 515.9 517.7 515.7 518.3 516.2 518.9 516.1 519.5 519.6 520.2 519.6 520.8 516.1 521.4 516.3 522.0 520.6 522.6 510.6 523.3 515.7 523.9 516.0 524.5 516.0 525.1 516.3 525.8 515.9 526.4 515.8 527.0 515.9 527.6 515.7 528.2 515.9 528.9 511.6 529.5 512.5 530.1 512.5 530.7 512.5 531.3 515.8 532.0 520.8 532.6 516.4 533.2 515.7 533.8 515.7 534.5 515.8 535.1 516.2 535.7 515.7 536.3 516.3 536.9 515.9 537.6 516.2 538.2 516.2 538.8 516.2 539.4 520.2 540.0 520.2 540.7 516.0 541.3 516.2 541.9 516.1 542.5 520.1 543.2 515.9 543.8 516.3 544.4 513.6 545.0 515.9 545.6 516.1 546.3 511.2 546.9 511.2 547.5 511.2 548.1 510.9 548.8 510.9 549.4 515.7 550.0 516.2 550.6 512.4 551.2 516.3 551.9 516.3 552.5 512.1 553.1 512.1 553.7 512.1 554.3 516.1 555.0 511.7 555.6 516.0 556.2 516.3 556.8 515.8 557.5 512.9 558.1 516.0 558.7 516.1 559.3 515.9 559.9 516.4 560.6 512.5 561.2 512.9 561.8 512.9 562.4 515.7 563.0 516.2 563.7 511.7 564.3 519.4 564.9 519.4 565.5 516.0 566.2 515.8 566.8 515.8 567.4 511.4 568.0 511.4 568.6 516.0 569.3 520.9 569.9 520.9 570.5 515.9 571.1 520.0 571.7 515.6 572.4 516.3 573.0 515.6 573.6 519.0 574.2 519.0 574.9 516.1 575.5 516.3 576.1 516.1 576.7 516.2 577.3 516.1 578.0 511.8 578.6 510.1 579.2 516.1 579.8 516.3 580.4 516.0 581.1 519.6 581.7 519.6 582.3 512.3 582.9 516.0 583.6 516.2 584.2 516.2 584.8 515.7 585.4 516.1 586.0 516.1 586.7 512.2 587.3 515.8 587.9 510.0 588.5 510.0 589.1 510.0 589.8 516.4 590.4 515.8 591.0 511.1 591.6 511.1 592.3 511.1 592.9 519.0 593.5 516.2 594.1 515.7 594.7 515.8 595.4 516.0 596.0 516.3 596.6 515.6 597.2 513.5 597.8 513.5 598.5 513.5 599.1 515.7 599.7 518.9 600.3 518.9 601.0 515.9 601.6 516.2 602.2 515.7 602.8 515.7 603.4 515.7 604.1 516.0 604.7 516.0 605.3 519.3 605.9 519.3 606.6 512.8 607.2 512.8 607.8 512.8 608.4 520.9 609.0 515.8 609.7 516.3 610.3 516.1 610.9 516.3 611.5 515.8 612.1 511.7 612.8 511.7 613.4 511.7 614.0 516.2 614.6 515.8 615.3 514.0 615.9 520.5 616.5 520.5 617.1 515.7 617.7 516.2 618.4 513.7 619.0 519.5 619.6 516.1 620.2 512.2 620.8 512.2 621.5 512.2 622.1 516.2 622.7 520.7 623.3 520.7 624.0 516.1 624.6 510.7 625.2 510.7 625.8 510.7 626.4 519.4 627.1 519.7 627.7 516.0 628.3 510.1 628.9 510.1 629.5 515.6 630.2 513.5 630.8 513.5 631.4 515.8 632.0 515.8 632.7 512.4 633.3 512.4 633.9 512.4 634.5 515.8 635.1 510.7 635.8 511.5 636.4 511.5 637.0 511.5 637.6 516.4 638.2 515.7 638.9 515.9 639.5 511.0 640.1 511.0 640.7 511.0 641.4 520.8 642.0 520.8 642.6 511.5 643.2 515.8 643.8 511.4 644.5 511.4 645.1 511.4 645.7 516.3 646.3 512.8 646.9 512.8 647.6 512.8 648.2 516.0 648.8 510.0 649.4 515.8 650.1 516.2 650.7 511.0 651.3 515.9 651.9 516.2 652.5 516.3 653.2 516.3 653.8 515.7 654.4 515.7 655.0 515.9 655.6 516.2 656.3 516.3 656.9 515.6 657.5 511.3 658.1 516.1 658.8 510.2 659.4 510.2 660.0 510.2 660.6 516.3 661.2 515.7 661.9 515.8 662.5 511.2 663.1 519.6 663.7 519.6 664.3 510.2 665.0 510.2 665.6 510.2 666.2 516.0 666.8 515.7 667.5 516.4 668.1 515.8 668.7 519.5 669.3 519.5 669.9 515.6 670.6 515.8 671.2 515.6 671.8 515.9 672.4 513.3 673.1 513.3 673.7 513.3 674.3 518.6 674.9 518.6 675.5 510.6 676.2 515.8 676.8 513.3 677.4 513.3 678.0 513.3 678.6 516.2 679.3 512.7 679.9 512.7 680.5 512.7 681.1 516.1 681.8 512.9 682.4 512.9 683.0 516.3 683.6 515.9 684.2 520.9 684.9 511.9 685.5 511.9 686.1 511.9 686.7 520.6 687.3 520.6 688.0 512.3 688.6 516.3 689.2 515.7 689.8 515.8 690.5 516.3 691.1 516.3 691.7 516.3 692.3 520.3 692.9 520.3 693.6 516.0 694.2 515.6 694.8 515.8 695.4 511.0 696.0 513.0 696.7 513.0 697.3 512.3 697.9 512.3 698.5 512.3 699.2 519.4 699.8 515.6 700.4 512.0 701.0 512.0 701.6 513.5 702.3 513.5 702.9 513.5 703.5 516.3 704.1 513.0 704.7 515.6 705.4 516.2 706.0 516.1 706.6 510.2 707.2 510.2 707.9 519.3 708.5 519.3 709.1 516.1 709.7 515.9 710.3 516.0 711.0 520.2 711.6 520.2 712.2 520.1 712.8 520.1 713.4 511.3 714.1 515.6 714.7 513.1 715.3 513.1 715.9 516.2 716.6 516.3 717.2 511.1 717.8 511.1 718.4 511.1 719.0 516.1 719.7 515.6 720.3 510.1 720.9 515.8 721.5 518.8 722.1 518.8 722.8 513.7 723.4 513.7 724.0 511.2 724.6 511.2 725.3 515.8 725.9 516.2 726.5 520.2 727.1 515.8 727.7 516.0 728.4 516.1 729.0 515.8 729.6 519.8 730.2 519.8 730.8 515.9 731.5 515.7 732.1 515.9 732.7 520.7 733.3 518.9 734.0 515.9 734.6 516.0 735.2 515.9 735.8 516.0 736.4 516.1 737.1 515.9 737.7 515.7 738.3 511.1 738.9 511.1 739.6 511.1 740.2 513.7 740.8 513.7 741.4 520.1 742.0 515.7 742.7 516.0 743.3 514.0 743.9 516.2 744.5 516.1 745.1 516.0 745.8 516.2 746.4 519.9 747.0 519.9 747.6 515.6 748.3 516.4 748.9 515.8 749.5 516.2 750.1 515.9 750.7 519.3 751.4 515.8 752.0 516.3 752.6 512.3 753.2 512.3 753.8 519.3 754.5 519.3 755.1 516.0 755.7 515.9 756.3 516.1 757.0 516.4 757.6 516.0 758.2 511.6 758.8 511.6 759.4 511.6 760.1 515.7 760.7 511.6 761.3 511.6 761.9 511.6 762.5 516.1 763.2 516.2 763.8 511.5 764.4 516.0 765.0 512.8 765.7 512.8 766.3 512.8 766.9 515.9 767.5 512.0 768.1 512.0 768.8 512.0 769.4 515.9 770.0 510.4 770.6 510.4 771.2 510.4 771.9 516.1 772.5 513.2 773.1 513.2 773.7 516.0 774.4 515.9 775.0 510.1 775.6 516.0 776.2 519.8 776.8 515.9 777.5 513.0 778.1 513.8 778.7 513.8 779.3 516.1 779.9 515.6 780.6 511.3 781.2 511.3 781.8 511.3 782.4 518.6 783.1 516.4 783.7 512.5 784.3 512.3 784.9 516.1 785.5 520.8 786.2 520.5 786.8 520.5 787.4 515.8 788.0 516.4 788.6 512.7 789.3 512.7 789.9 512.7 790.5 520.7 791.1 520.7 791.8 510.3 792.4 515.7 793.0 515.8 793.6 515.7 794.2 515.9 794.9 515.7 795.5 511.4 796.1 516.0 796.7 515.9 797.4 520.5 798.0 515.7 798.6 518.8 799.2 518.8 799.8 516.2 800.5 519.0 801.1 519.0 801.7 516.4 802.3 512.0 802.9 516.1 803.6 516.4 804.2 516.0 804.8 516.0 805.4 516.0 806.1 512.7 806.7 515.8 807.3 515.9 807.9 516.1 808.5 518.7 809.2 515.8 809.8 510.3 810.4 510.3 811.0 516.2 811.6 510.4 812.3 510.4 812.9 511.1 813.5 511.1 814.1 516.0 814.8 516.1 815.4 516.3 816.0 513.2 816.6 513.2 817.2 513.2 817.9 515.9 818.5 516.2 819.1 519.4 819.7 513.7 820.3 513.7 821.0 513.7 821.6 511.6 822.2 511.6 822.8 511.6 823.5 511.2 824.1 511.2 824.7 516.0 825.3 516.4 825.9 515.8 826.6 516.0 827.2 516.1 827.8 516.3 828.4 512.6 829.0 516.1 829.7 516.4 830.3 515.6 830.9 519.4 831.5 516.2 832.2 516.1 832.8 519.4 833.4 519.4 834.0 515.9 834.6 516.2 835.3 516.1 835.9 516.1 836.5 513.4 837.1 515.8 837.7 516.3 838.4 515.7 839.0 510.9 839.6 510.9 840.2 519.4 840.9 519.4 841.5 510.5 842.1 510.5 842.7 510.5 843.3 516.1 844.0 519.8 844.6 519.8 845.2 512.8 845.8 515.7 846.4 515.9 847.1 516.0 847.7 515.7 848.3 516.1 848.9 516.2 849.6 515.7 850.2 519.0 850.8 515.8 851.4 513.9 852.0 519.4 852.7 515.6 853.3 516.4 853.9 516.2 854.5 519.2 855.1 519.2 855.8 516.0 856.4 515.9 857.0 515.7 857.6 520.3 858.3 520.3 858.9 515.7 859.5 515.6 860.1 515.7 860.7 516.4 861.4 516.3 862.0 515.7 862.6 515.8 863.2 515.9 863.9 515.9 864.5 520.8 865.1 520.8 865.7 519.9 866.3 519.9 867.0 516.4 867.6 516.0 868.2 512.3 868.8 510.6 869.4 510.6 870.1 510.6 870.7 515.7 871.3 510.8 871.9 510.8 872.6 510.8 873.2 515.6 873.8 516.3 874.4 515.7 875.0 512.8 875.7 512.8 876.3 513.8 876.9 515.7 877.5 519.9 878.1 519.9 878.8 516.0 879.4 516.0 880.0 516.0 880.6 515.7 881.3 516.1 881.9 512.9 882.5 512.9 883.1 515.8 883.7 516.4 884.4 516.1 885.0 520.7 885.6 515.8 886.2 516.2 886.8 512.2 887.5 512.2 888.1 515.8 888.7 515.8 889.3 519.0 890.0 520.1 890.6 515.8 891.2 516.0 891.8 518.8 892.4 516.1 893.1 515.7 893.7 516.0 894.3 516.4 894.9 516.4 895.5 516.0 896.2 516.0 896.8 515.8 897.4 515.7 898.0 516.1 898.7 515.6 899.3 513.8 899.9 513.8 900.5 519.6 901.1 516.3 901.8 516.3 902.4 515.7 903.0 515.9 903.6 516.1 904.2 515.7 904.9 516.2 905.5 516.2 906.1 510.4 906.7 510.4 907.4 510.4 908.0 518.6 908.6 519.6 909.2 519.6 909.8 510.4 910.5 510.4 911.1 511.2 911.7 511.2 912.3 511.2 912.9 516.3 913.6 515.8 914.2 516.2 914.8 518.6 915.4 516.0 916.1 510.3 916.7 510.3 917.3 510.3 917.9 516.1 918.5 516.0 919.2 511.6 919.8 511.6 920.4 511.6 921.0 515.9 921.7 515.8 922.3 510.8 922.9 510.8 923.5 515.9 924.1 516.3 924.8 519.7 925.4 513.9 926.0 516.2 926.6 510.3 927.2 510.3 927.9 516.1 928.5 515.7 929.1 516.3 929.7 515.7 930.4 512.3 931.0 515.8 931.6 516.3 932.2 516.1 932.8 520.3 933.5 516.0 934.1 515.6 934.7 521.0 935.3 521.0 935.9 516.3 936.6 516.4 937.2 513.6 937.8 513.6 938.4 513.6 939.1 516.0 939.7 515.8 940.3 511.2 940.9 511.2 941.5 520.1 942.2 520.1 942.8 513.7 943.4 513.7 944.0 513.7 944.6 513.9 945.3 513.9 945.9 516.2 946.5 516.3 947.1 515.9 947.8 512.2 948.4 515.8 949.0 511.8 949.6 511.8 950.2 511.8 950.9 518.7 951.5 516.4 952.1 515.7 952.7 516.3 953.3 515.7 954.0 513.5 954.6 513.5 955.2 513.5 955.8 519.3 956.5 515.9 957.1 515.9 957.7 510.2 958.3 510.2 958.9 510.2 959.6 516.2 960.2 515.9 960.8 516.3 961.4 512.6 962.0 512.6 962.7 512.9 963.3 512.9 963.9 510.8 964.5 510.8 965.2 510.8 965.8 515.7 966.4 515.9 967.0 516.1 967.6 516.1 968.3 515.9 968.9 515.8 969.5 516.2 970.1 515.8 970.7 516.4 971.4 515.8 972.0 516.4 972.6 511.9 973.2 511.9 973.9 511.9 974.5 516.4 975.1 511.6 975.7 516.1 976.3 510.8 977.0 520.3 977.6 516.3 978.2 516.0 978.8 516.2 979.4 516.3 980.1 513.6 980.7 513.6 981.3 515.9 981.9 515.7 982.6 515.7 983.2 515.9 983.8 515.6 984.4 515.9 985.0 516.4 985.7 515.8 986.3 519.6 986.9 515.9 987.5 515.8 988.2 516.0 988.8 516.2" stroke="#56b4e9" stroke-width="1.2"/><path d="M332.5 518V478" stroke="#56b4e9" stroke-width="1"/><path d="M334.5 518V495" stroke="#56b4e9" stroke-width="1"/><path d="M295.5 518V496" stroke="#56b4e9" stroke-width="1"/><path d="M221.5 518V500.4" stroke="#56b4e9" stroke-width="1"/><path d="M706.5 518V483" stroke="#56b4e9" stroke-width="1"/><path d="M706.5 518V497" stroke="#56b4e9" stroke-width="1"/><path d="M818.5 518V501" stroke="#56b4e9" stroke-width="1"/><path d="M339.5 518V465" stroke="#009e73" stroke-width="1"/><path d="M340.5 518V492" stroke="#009e73" stroke-width="1"/><path d="M328.5 518V501" stroke="#009e73" stroke-width="1"/><path d="M248.5 518V500" stroke="#009e73" stroke-width="1"/><path d="M180.5 518V506" stroke="#009e73" stroke-width="1"/><path d="M462.5 518V461" stroke="#009e73" stroke-width="1"/><path d="M464.5 518V487" stroke="#009e73" stroke-width="1"/><path d="M987.5 506V522" stroke="#009e73" stroke-width="1"/></g><circle cx="95.10" cy="522.30" r="5.9" fill="#e51e10"/><path d="M88.60 522.30h1.6M101.60 522.30h-1.6M95.10 515.80v1.6M95.10 528.80v-1.6" stroke="#e51e10" stroke-width="1.2"/><circle cx="128.50" cy="522.30" r="5.9" fill="#e51e10"/><path d="M122.00 522.30h1.6M135.00 522.30h-1.6M128.50 515.80v1.6M128.50 528.80v-1.6" stroke="#e51e10" stroke-width="1.2"/><circle cx="170.40" cy="522.30" r="5.9" fill="#e51e10"/><path d="M163.90 522.30h1.6M176.90 522.30h-1.6M170.40 515.80v1.6M170.40 528.80v-1.6" stroke="#e51e10" stroke-width="1.2"/><circle cx="203.20" cy="522.30" r="5.9" fill="#e51e10"/><path d="M196.70 522.30h1.6M209.70 522.30h-1.6M203.20 515.80v1.6M203.20 528.80v-1.6" stroke="#e51e10" stroke-width="1.2"/><circle cx="207.60" cy="522.30" r="5.9" fill="#e51e10"/><path d="M201.10 522.30h1.6M214.10 522.30h-1.6M207.60 515.80v1.6M207.60 528.80v-1.6" stroke="#e51e10" stroke-width="1.2"/><circle cx="240.30" cy="522.30" r="5.9" fill="#e51e10"/><path d="M233.80 522.30h1.6M246.80 522.30h-1.6M240.30 515.80v1.6M240.30 528.80v-1.6" stroke="#e51e10" stroke-width="1.2"/><circle cx="244.70" cy="522.30" r="5.9" fill="#e51e10"/><path d="M238.20 522.30h1.6M251.20 522.30h-1.6M244.70 515.80v1.6M244.70 528.80v-1.6" stroke="#e51e10" stroke-width="1.2"/><circle cx="277.10" cy="522.30" r="5.9" fill="#e51e10"/><path d="M270.60 522.30h1.6M283.60 522.30h-1.6M277.10 515.80v1.6M277.10 528.80v-1.6" stroke="#e51e10" stroke-width="1.2"/><circle cx="282.20" cy="522.30" r="5.9" fill="#e51e10"/><path d="M275.70 522.30h1.6M288.70 522.30h-1.6M282.20 515.80v1.6M282.20 528.80v-1.6" stroke="#e51e10" stroke-width="1.2"/><circle cx="315.30" cy="522.30" r="5.9" fill="#e51e10"/><path d="M308.80 522.30h1.6M321.80 522.30h-1.6M315.30 515.80v1.6M315.30 528.80v-1.6" stroke="#e51e10" stroke-width="1.2"/><circle cx="319.70" cy="522.30" r="5.9" fill="#e51e10"/><path d="M313.20 522.30h1.6M326.20 522.30h-1.6M319.70 515.80v1.6M319.70 528.80v-1.6" stroke="#e51e10" stroke-width="1.2"/><circle cx="352.80" cy="522.30" r="5.9" fill="#e51e10"/><path d="M346.30 522.30h1.6M359.30 522.30h-1.6M352.80 515.80v1.6M352.80 528.80v-1.6" stroke="#e51e10" stroke-width="1.2"/><circle cx="356.50" cy="522.30" r="5.9" fill="#e51e10"/><path d="M350.00 522.30h1.6M363.00 522.30h-1.6M356.50 515.80v1.6M356.50 528.80v-1.6" stroke="#e51e10" stroke-width="1.2"/><circle cx="389.10" cy="522.30" r="5.9" fill="#e51e10"/><path d="M382.60 522.30h1.6M395.60 522.30h-1.6M389.10 515.80v1.6M389.10 528.80v-1.6" stroke="#e51e10" stroke-width="1.2"/><circle cx="394.30" cy="522.30" r="5.9" fill="#e51e10"/><path d="M387.80 522.30h1.6M400.80 522.30h-1.6M394.30 515.80v1.6M394.30 528.80v-1.6" stroke="#e51e10" stroke-width="1.2"/><circle cx="427.40" cy="522.30" r="5.9" fill="#e51e10"/><path d="M420.90 522.30h1.6M433.90 522.30h-1.6M427.40 515.80v1.6M427.40 528.80v-1.6" stroke="#e51e10" stroke-width="1.2"/><circle cx="431.80" cy="522.30" r="5.9" fill="#e51e10"/><path d="M425.30 522.30h1.6M438.30 522.30h-1.6M431.80 515.80v1.6M431.80 528.80v-1.6" stroke="#e51e10" stroke-width="1.2"/><circle cx="464.10" cy="522.30" r="5.9" fill="#e51e10"/><path d="M457.60 522.30h1.6M470.60 522.30h-1.6M464.10 515.80v1.6M464.10 528.80v-1.6" stroke="#e51e10" stroke-width="1.2"/><circle cx="468.50" cy="522.30" r="5.9" fill="#e51e10"/><path d="M462.00 522.30h1.6M475.00 522.30h-1.6M468.50 515.80v1.6M468.50 528.80v-1.6" stroke="#e51e10" stroke-width="1.2"/><circle cx="500.90" cy="522.30" r="5.9" fill="#e51e10"/><path d="M494.40 522.30h1.6M507.40 522.30h-1.6M500.90 515.80v1.6M500.90 528.80v-1.6" stroke="#e51e10" stroke-width="1.2"/><circle cx="505.30" cy="522.30" r="5.9" fill="#e51e10"/><path d="M498.80 522.30h1.6M511.80 522.30h-1.6M505.30 515.80v1.6M505.30 528.80v-1.6" stroke="#e51e10" stroke-width="1.2"/><circle cx="537.90" cy="522.30" r="5.9" fill="#e51e10"/><path d="M531.40 522.30h1.6M544.40 522.30h-1.6M537.90 515.80v1.6M537.90 528.80v-1.6" stroke="#e51e10" stroke-width="1.2"/><circle cx="543.50" cy="522.30" r="5.9" fill="#e51e10"/><path d="M537.00 522.30h1.6M550.00 522.30h-1.6M543.50 515.80v1.6M543.50 528.80v-1.6" stroke="#e51e10" stroke-width="1.2"/><circle cx="576.20" cy="522.30" r="5.9" fill="#e51e10"/><path d="M569.70 522.30h1.6M582.70 522.30h-1.6M576.20 515.80v1.6M576.20 528.80v-1.6" stroke="#e51e10" stroke-width="1.2"/><circle cx="580.60" cy="522.30" r="5.9" fill="#e51e10"/><path d="M574.10 522.30h1.6M587.10 522.30h-1.6M580.60 515.80v1.6M580.60 528.80v-1.6" stroke="#e51e10" stroke-width="1.2"/><circle cx="612.90" cy="522.30" r="5.9" fill="#e51e10"/><path d="M606.40 522.30h1.6M619.40 522.30h-1.6M612.90 515.80v1.6M612.90 528.80v-1.6" stroke="#e51e10" stroke-width="1.2"/><circle cx="617.40" cy="522.30" r="5.9" fill="#e51e10"/><path d="M610.90 522.30h1.6M623.90 522.30h-1.6M617.40 515.80v1.6M617.40 528.80v-1.6" stroke="#e51e10" stroke-width="1.2"/><circle cx="650.40" cy="522.30" r="5.9" fill="#e51e10"/><path d="M643.90 522.30h1.6M656.90 522.30h-1.6M650.40 515.80v1.6M650.40 528.80v-1.6" stroke="#e51e10" stroke-width="1.2"/><circle cx="655.60" cy="522.30" r="5.9" fill="#e51e10"/><path d="M649.10 522.30h1.6M662.10 522.30h-1.6M655.60 515.80v1.6M655.60 528.80v-1.6" stroke="#e51e10" stroke-width="1.2"/><circle cx="689.00" cy="522.30" r="5.9" fill="#e51e10"/><path d="M682.50 522.30h1.6M695.50 522.30h-1.6M689.00 515.80v1.6M689.00 528.80v-1.6" stroke="#e51e10" stroke-width="1.2"/><circle cx="692.60" cy="522.30" r="5.9" fill="#e51e10"/><path d="M686.10 522.30h1.6M699.10 522.30h-1.6M692.60 515.80v1.6M692.60 528.80v-1.6" stroke="#e51e10" stroke-width="1.2"/><circle cx="725.70" cy="522.30" r="5.9" fill="#e51e10"/><path d="M719.20 522.30h1.6M732.20 522.30h-1.6M725.70 515.80v1.6M725.70 528.80v-1.6" stroke="#e51e10" stroke-width="1.2"/><circle cx="729.40" cy="522.30" r="5.9" fill="#e51e10"/><path d="M722.90 522.30h1.6M735.90 522.30h-1.6M729.40 515.80v1.6M729.40 528.80v-1.6" stroke="#e51e10" stroke-width="1.2"/><circle cx="762.50" cy="522.30" r="5.9" fill="#e51e10"/><path d="M756.00 522.30h1.6M769.00 522.30h-1.6M762.50 515.80v1.6M762.50 528.80v-1.6" stroke="#e51e10" stroke-width="1.2"/><circle cx="766.90" cy="522.30" r="5.9" fill="#e51e10"/><path d="M760.40 522.30h1.6M773.40 522.30h-1.6M766.90 515.80v1.6M766.90 528.80v-1.6" stroke="#e51e10" stroke-width="1.2"/><circle cx="798.80" cy="522.30" r="5.9" fill="#e51e10"/><path d="M792.30 522.30h1.6M805.30 522.30h-1.6M798.80 515.80v1.6M798.80 528.80v-1.6" stroke="#e51e10" stroke-width="1.2"/><circle cx="804.70" cy="522.30" r="5.9" fill="#e51e10"/><path d="M798.20 522.30h1.6M811.20 522.30h-1.6M804.70 515.80v1.6M804.70 528.80v-1.6" stroke="#e51e10" stroke-width="1.2"/><circle cx="837.10" cy="522.30" r="5.9" fill="#e51e10"/><path d="M830.60 522.30h1.6M843.60 522.30h-1.6M837.10 515.80v1.6M837.10 528.80v-1.6" stroke="#e51e10" stroke-width="1.2"/><circle cx="841.50" cy="522.30" r="5.9" fill="#e51e10"/><path d="M835.00 522.30h1.6M848.00 522.30h-1.6M841.50 515.80v1.6M841.50 528.80v-1.6" stroke="#e51e10" stroke-width="1.2"/><circle cx="873.80" cy="522.30" r="5.9" fill="#e51e10"/><path d="M867.30 522.30h1.6M880.30 522.30h-1.6M873.80 515.80v1.6M873.80 528.80v-1.6" stroke="#e51e10" stroke-width="1.2"/><circle cx="878.20" cy="522.30" r="5.9" fill="#e51e10"/><path d="M871.70 522.30h1.6M884.70 522.30h-1.6M878.20 515.80v1.6M878.20 528.80v-1.6" stroke="#e51e10" stroke-width="1.2"/><circle cx="911.30" cy="522.30" r="5.9" fill="#e51e10"/><path d="M904.80 522.30h1.6M917.80 522.30h-1.6M911.30 515.80v1.6M911.30 528.80v-1.6" stroke="#e51e10" stroke-width="1.2"/><circle cx="916.70" cy="522.30" r="5.9" fill="#e51e10"/><path d="M910.20 522.30h1.6M923.20 522.30h-1.6M916.70 515.80v1.6M916.70 528.80v-1.6" stroke="#e51e10" stroke-width="1.2"/><circle cx="949.50" cy="522.30" r="5.9" fill="#e51e10"/><path d="M943.00 522.30h1.6M956.00 522.30h-1.6M949.50 515.80v1.6M949.50 528.80v-1.6" stroke="#e51e10" stroke-width="1.2"/><circle cx="953.70" cy="522.30" r="5.9" fill="#e51e10"/><path d="M947.20 522.30h1.6M960.20 522.30h-1.6M953.70 515.80v1.6M953.70 528.80v-1.6" stroke="#e51e10" stroke-width="1.2"/><circle cx="986.30" cy="522.30" r="5.9" fill="#e51e10"/><path d="M979.80 522.30h1.6M992.80 522.30h-1.6M986.30 515.80v1.6M986.30 528.80v-1.6" stroke="#e51e10" stroke-width="1.2"/><circle cx="95.10" cy="507.00" r="5.3" fill="none" stroke="#0072b2" stroke-width="1.3"/><path d="M88.60 507.00h1.6M101.60 507.00h-1.6M95.10 500.50v1.6M95.10 513.50v-1.6" stroke="#0072b2" stroke-width="1.2"/><circle cx="128.50" cy="505.50" r="5.3" fill="none" stroke="#0072b2" stroke-width="1.3"/><path d="M122.00 505.50h1.6M135.00 505.50h-1.6M128.50 499.00v1.6M128.50 512.00v-1.6" stroke="#0072b2" stroke-width="1.2"/><circle cx="170.40" cy="505.50" r="5.3" fill="none" stroke="#0072b2" stroke-width="1.3"/><path d="M163.90 505.50h1.6M176.90 505.50h-1.6M170.40 499.00v1.6M170.40 512.00v-1.6" stroke="#0072b2" stroke-width="1.2"/><circle cx="203.20" cy="504.10" r="5.3" fill="none" stroke="#0072b2" stroke-width="1.3"/><path d="M196.70 504.10h1.6M209.70 504.10h-1.6M203.20 497.60v1.6M203.20 510.60v-1.6" stroke="#0072b2" stroke-width="1.2"/><circle cx="207.60" cy="505.60" r="5.3" fill="none" stroke="#0072b2" stroke-width="1.3"/><path d="M201.10 505.60h1.6M214.10 505.60h-1.6M207.60 499.10v1.6M207.60 512.10v-1.6" stroke="#0072b2" stroke-width="1.2"/><circle cx="240.30" cy="504.90" r="5.3" fill="none" stroke="#0072b2" stroke-width="1.3"/><path d="M233.80 504.90h1.6M246.80 504.90h-1.6M240.30 498.40v1.6M240.30 511.40v-1.6" stroke="#0072b2" stroke-width="1.2"/><circle cx="244.70" cy="506.30" r="5.3" fill="none" stroke="#0072b2" stroke-width="1.3"/><path d="M238.20 506.30h1.6M251.20 506.30h-1.6M244.70 499.80v1.6M244.70 512.80v-1.6" stroke="#0072b2" stroke-width="1.2"/><circle cx="277.10" cy="505.00" r="5.3" fill="none" stroke="#0072b2" stroke-width="1.3"/><path d="M270.60 505.00h1.6M283.60 505.00h-1.6M277.10 498.50v1.6M277.10 511.50v-1.6" stroke="#0072b2" stroke-width="1.2"/><circle cx="282.20" cy="506.50" r="5.3" fill="none" stroke="#0072b2" stroke-width="1.3"/><path d="M275.70 506.50h1.6M288.70 506.50h-1.6M282.20 500.00v1.6M282.20 513.00v-1.6" stroke="#0072b2" stroke-width="1.2"/><circle cx="315.30" cy="504.50" r="5.3" fill="none" stroke="#0072b2" stroke-width="1.3"/><path d="M308.80 504.50h1.6M321.80 504.50h-1.6M315.30 498.00v1.6M315.30 511.00v-1.6" stroke="#0072b2" stroke-width="1.2"/><circle cx="319.70" cy="506.30" r="5.3" fill="none" stroke="#0072b2" stroke-width="1.3"/><path d="M313.20 506.30h1.6M326.20 506.30h-1.6M319.70 499.80v1.6M319.70 512.80v-1.6" stroke="#0072b2" stroke-width="1.2"/><circle cx="352.80" cy="504.40" r="5.3" fill="none" stroke="#0072b2" stroke-width="1.3"/><path d="M346.30 504.40h1.6M359.30 504.40h-1.6M352.80 497.90v1.6M352.80 510.90v-1.6" stroke="#0072b2" stroke-width="1.2"/><circle cx="356.50" cy="506.00" r="5.3" fill="none" stroke="#0072b2" stroke-width="1.3"/><path d="M350.00 506.00h1.6M363.00 506.00h-1.6M356.50 499.50v1.6M356.50 512.50v-1.6" stroke="#0072b2" stroke-width="1.2"/><circle cx="389.10" cy="504.50" r="5.3" fill="none" stroke="#0072b2" stroke-width="1.3"/><path d="M382.60 504.50h1.6M395.60 504.50h-1.6M389.10 498.00v1.6M389.10 511.00v-1.6" stroke="#0072b2" stroke-width="1.2"/><circle cx="394.30" cy="505.50" r="5.3" fill="none" stroke="#0072b2" stroke-width="1.3"/><path d="M387.80 505.50h1.6M400.80 505.50h-1.6M394.30 499.00v1.6M394.30 512.00v-1.6" stroke="#0072b2" stroke-width="1.2"/><circle cx="427.40" cy="505.00" r="5.3" fill="none" stroke="#0072b2" stroke-width="1.3"/><path d="M420.90 505.00h1.6M433.90 505.00h-1.6M427.40 498.50v1.6M427.40 511.50v-1.6" stroke="#0072b2" stroke-width="1.2"/><circle cx="431.80" cy="506.30" r="5.3" fill="none" stroke="#0072b2" stroke-width="1.3"/><path d="M425.30 506.30h1.6M438.30 506.30h-1.6M431.80 499.80v1.6M431.80 512.80v-1.6" stroke="#0072b2" stroke-width="1.2"/><circle cx="464.10" cy="502.60" r="5.3" fill="none" stroke="#0072b2" stroke-width="1.3"/><path d="M457.60 502.60h1.6M470.60 502.60h-1.6M464.10 496.10v1.6M464.10 509.10v-1.6" stroke="#0072b2" stroke-width="1.2"/><circle cx="468.50" cy="506.30" r="5.3" fill="none" stroke="#0072b2" stroke-width="1.3"/><path d="M462.00 506.30h1.6M475.00 506.30h-1.6M468.50 499.80v1.6M468.50 512.80v-1.6" stroke="#0072b2" stroke-width="1.2"/><circle cx="500.90" cy="505.00" r="5.3" fill="none" stroke="#0072b2" stroke-width="1.3"/><path d="M494.40 505.00h1.6M507.40 505.00h-1.6M500.90 498.50v1.6M500.90 511.50v-1.6" stroke="#0072b2" stroke-width="1.2"/><circle cx="505.30" cy="505.00" r="5.3" fill="none" stroke="#0072b2" stroke-width="1.3"/><path d="M498.80 505.00h1.6M511.80 505.00h-1.6M505.30 498.50v1.6M505.30 511.50v-1.6" stroke="#0072b2" stroke-width="1.2"/><circle cx="537.90" cy="504.10" r="5.3" fill="none" stroke="#0072b2" stroke-width="1.3"/><path d="M531.40 504.10h1.6M544.40 504.10h-1.6M537.90 497.60v1.6M537.90 510.60v-1.6" stroke="#0072b2" stroke-width="1.2"/><circle cx="543.50" cy="506.30" r="5.3" fill="none" stroke="#0072b2" stroke-width="1.3"/><path d="M537.00 506.30h1.6M550.00 506.30h-1.6M543.50 499.80v1.6M543.50 512.80v-1.6" stroke="#0072b2" stroke-width="1.2"/><circle cx="576.20" cy="505.00" r="5.3" fill="none" stroke="#0072b2" stroke-width="1.3"/><path d="M569.70 505.00h1.6M582.70 505.00h-1.6M576.20 498.50v1.6M576.20 511.50v-1.6" stroke="#0072b2" stroke-width="1.2"/><circle cx="580.60" cy="506.30" r="5.3" fill="none" stroke="#0072b2" stroke-width="1.3"/><path d="M574.10 506.30h1.6M587.10 506.30h-1.6M580.60 499.80v1.6M580.60 512.80v-1.6" stroke="#0072b2" stroke-width="1.2"/><circle cx="612.90" cy="505.60" r="5.3" fill="none" stroke="#0072b2" stroke-width="1.3"/><path d="M606.40 505.60h1.6M619.40 505.60h-1.6M612.90 499.10v1.6M612.90 512.10v-1.6" stroke="#0072b2" stroke-width="1.2"/><circle cx="617.40" cy="506.30" r="5.3" fill="none" stroke="#0072b2" stroke-width="1.3"/><path d="M610.90 506.30h1.6M623.90 506.30h-1.6M617.40 499.80v1.6M617.40 512.80v-1.6" stroke="#0072b2" stroke-width="1.2"/><circle cx="650.40" cy="494.10" r="5.3" fill="none" stroke="#0072b2" stroke-width="1.3"/><path d="M643.90 494.10h1.6M656.90 494.10h-1.6M650.40 487.60v1.6M650.40 500.60v-1.6" stroke="#0072b2" stroke-width="1.2"/><circle cx="655.60" cy="503.40" r="5.3" fill="none" stroke="#0072b2" stroke-width="1.3"/><path d="M649.10 503.40h1.6M662.10 503.40h-1.6M655.60 496.90v1.6M655.60 509.90v-1.6" stroke="#0072b2" stroke-width="1.2"/><circle cx="689.00" cy="502.40" r="5.3" fill="none" stroke="#0072b2" stroke-width="1.3"/><path d="M682.50 502.40h1.6M695.50 502.40h-1.6M689.00 495.90v1.6M689.00 508.90v-1.6" stroke="#0072b2" stroke-width="1.2"/><circle cx="692.60" cy="504.90" r="5.3" fill="none" stroke="#0072b2" stroke-width="1.3"/><path d="M686.10 504.90h1.6M699.10 504.90h-1.6M692.60 498.40v1.6M692.60 511.40v-1.6" stroke="#0072b2" stroke-width="1.2"/><circle cx="725.70" cy="503.50" r="5.3" fill="none" stroke="#0072b2" stroke-width="1.3"/><path d="M719.20 503.50h1.6M732.20 503.50h-1.6M725.70 497.00v1.6M725.70 510.00v-1.6" stroke="#0072b2" stroke-width="1.2"/><circle cx="729.40" cy="505.00" r="5.3" fill="none" stroke="#0072b2" stroke-width="1.3"/><path d="M722.90 505.00h1.6M735.90 505.00h-1.6M729.40 498.50v1.6M729.40 511.50v-1.6" stroke="#0072b2" stroke-width="1.2"/><circle cx="762.50" cy="504.10" r="5.3" fill="none" stroke="#0072b2" stroke-width="1.3"/><path d="M756.00 504.10h1.6M769.00 504.10h-1.6M762.50 497.60v1.6M762.50 510.60v-1.6" stroke="#0072b2" stroke-width="1.2"/><circle cx="766.90" cy="504.10" r="5.3" fill="none" stroke="#0072b2" stroke-width="1.3"/><path d="M760.40 504.10h1.6M773.40 504.10h-1.6M766.90 497.60v1.6M766.90 510.60v-1.6" stroke="#0072b2" stroke-width="1.2"/><circle cx="798.80" cy="504.10" r="5.3" fill="none" stroke="#0072b2" stroke-width="1.3"/><path d="M792.30 504.10h1.6M805.30 504.10h-1.6M798.80 497.60v1.6M798.80 510.60v-1.6" stroke="#0072b2" stroke-width="1.2"/><circle cx="804.70" cy="506.30" r="5.3" fill="none" stroke="#0072b2" stroke-width="1.3"/><path d="M798.20 506.30h1.6M811.20 506.30h-1.6M804.70 499.80v1.6M804.70 512.80v-1.6" stroke="#0072b2" stroke-width="1.2"/><circle cx="837.10" cy="505.00" r="5.3" fill="none" stroke="#0072b2" stroke-width="1.3"/><path d="M830.60 505.00h1.6M843.60 505.00h-1.6M837.10 498.50v1.6M837.10 511.50v-1.6" stroke="#0072b2" stroke-width="1.2"/><circle cx="841.50" cy="505.60" r="5.3" fill="none" stroke="#0072b2" stroke-width="1.3"/><path d="M835.00 505.60h1.6M848.00 505.60h-1.6M841.50 499.10v1.6M841.50 512.10v-1.6" stroke="#0072b2" stroke-width="1.2"/><circle cx="873.80" cy="504.40" r="5.3" fill="none" stroke="#0072b2" stroke-width="1.3"/><path d="M867.30 504.40h1.6M880.30 504.40h-1.6M873.80 497.90v1.6M873.80 510.90v-1.6" stroke="#0072b2" stroke-width="1.2"/><circle cx="878.20" cy="506.30" r="5.3" fill="none" stroke="#0072b2" stroke-width="1.3"/><path d="M871.70 506.30h1.6M884.70 506.30h-1.6M878.20 499.80v1.6M878.20 512.80v-1.6" stroke="#0072b2" stroke-width="1.2"/><circle cx="911.30" cy="503.10" r="5.3" fill="none" stroke="#0072b2" stroke-width="1.3"/><path d="M904.80 503.10h1.6M917.80 503.10h-1.6M911.30 496.60v1.6M911.30 509.60v-1.6" stroke="#0072b2" stroke-width="1.2"/><circle cx="916.70" cy="507.10" r="5.3" fill="none" stroke="#0072b2" stroke-width="1.3"/><path d="M910.20 507.10h1.6M923.20 507.10h-1.6M916.70 500.60v1.6M916.70 513.60v-1.6" stroke="#0072b2" stroke-width="1.2"/><circle cx="949.50" cy="505.10" r="5.3" fill="none" stroke="#0072b2" stroke-width="1.3"/><path d="M943.00 505.10h1.6M956.00 505.10h-1.6M949.50 498.60v1.6M949.50 511.60v-1.6" stroke="#0072b2" stroke-width="1.2"/><circle cx="953.70" cy="505.60" r="5.3" fill="none" stroke="#0072b2" stroke-width="1.3"/><path d="M947.20 505.60h1.6M960.20 505.60h-1.6M953.70 499.10v1.6M953.70 512.10v-1.6" stroke="#0072b2" stroke-width="1.2"/><circle cx="986.30" cy="504.10" r="5.3" fill="none" stroke="#0072b2" stroke-width="1.3"/><path d="M979.80 504.10h1.6M992.80 504.10h-1.6M986.30 497.60v1.6M986.30 510.60v-1.6" stroke="#0072b2" stroke-width="1.2"/><rect x="94.5" y="74.5" width="895" height="448" fill="none" stroke="#000" stroke-width="1" shape-rendering="crispEdges"/></svg></body></html>
